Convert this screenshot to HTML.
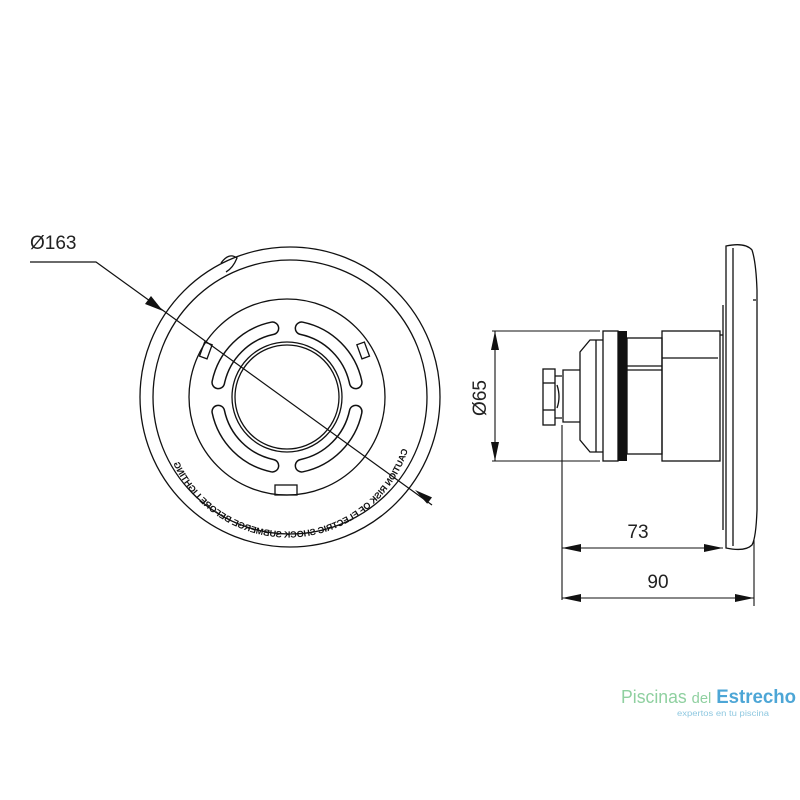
<!DOCTYPE html>
<html><head><meta charset="utf-8"><style>
html,body{margin:0;padding:0;background:#fff;width:800px;height:800px;overflow:hidden}
svg text{font-family:"Liberation Sans",sans-serif}
</style></head><body>
<svg width="800" height="800" viewBox="0 0 800 800" xmlns="http://www.w3.org/2000/svg">
<rect width="800" height="800" fill="#fff"/>
<g fill="none" stroke="#111" stroke-width="1.3">
<circle cx="290" cy="397" r="150"/>
<circle cx="290" cy="397" r="137"/>
<circle cx="287" cy="397" r="98"/>
<circle cx="287" cy="397" r="55"/>
<circle cx="287" cy="397" r="52"/>
<path d="M221 263 Q229 252 237 258 Q233 268 226 272"/>
<rect x="202" y="343" width="8" height="15" transform="rotate(20 206 350)"/>
<rect x="359" y="343" width="8" height="15" transform="rotate(-20 363 350)"/>
<rect x="275" y="485" width="22" height="10"/>
</g>
<g fill="none" stroke-linecap="round">
<g stroke="#111" stroke-width="14">
<path d="M218.3 382.4 A70 70 0 0 1 272.4 328.3"/>
<path d="M301.6 328.3 A70 70 0 0 1 355.7 382.4"/>
<path d="M355.7 411.6 A70 70 0 0 1 301.6 465.7"/>
<path d="M272.4 465.7 A70 70 0 0 1 218.3 411.6"/>
</g>
<g stroke="#fff" stroke-width="11">
<path d="M218.3 382.4 A70 70 0 0 1 272.4 328.3"/>
<path d="M301.6 328.3 A70 70 0 0 1 355.7 382.4"/>
<path d="M355.7 411.6 A70 70 0 0 1 301.6 465.7"/>
<path d="M272.4 465.7 A70 70 0 0 1 218.3 411.6"/>
</g>
</g>
<defs><path id="tp" d="M170 450 A126 126 0 0 0 414 434"/></defs>
<g transform="translate(578 0) scale(-1 1)">
<text font-size="9" font-weight="bold" fill="#111"><textPath href="#tp">CAUTION RISK OF ELECTRIC SHOCK SUBMERGE BEFORE LIGHTING</textPath></text>
</g>
<g stroke="#111" stroke-width="1.2" fill="none">
<path d="M30 262 L96 262 L432 505"/>
</g>
<polygon points="163,311 145,304 151,296" fill="#111"/>
<polygon points="415,490 432,497.4 427.2,503.8" fill="#111"/>
<text x="30" y="249" font-size="19" fill="#222">Ø163</text>
<g fill="none" stroke="#111" stroke-width="1.3">
<path d="M726 246 Q745 242 752 250 Q756 262 757 290 L757 510 Q756 538 752 545 Q745 552 726 548 Z"/>
<line x1="733" y1="248" x2="733" y2="546"/>
<line x1="723" y1="305" x2="723" y2="530"/>
<line x1="753" y1="300" x2="756" y2="300"/>
<rect x="662" y="331" width="58" height="130"/>
<line x1="662" y1="358" x2="718" y2="358"/>
<line x1="720" y1="335" x2="723" y2="335"/>
<rect x="627" y="338" width="35" height="116"/>
<line x1="627" y1="366" x2="662" y2="366"/>
<line x1="627" y1="370" x2="662" y2="370"/>
<rect x="603" y="331" width="15" height="130"/>
<path d="M603 340 L590 340 L580 352 L580 440 L590 452 L603 452"/>
<line x1="596" y1="340" x2="596" y2="452"/>
<path d="M580 370 L563 370 L563 422 L580 422"/>
<rect x="543" y="369" width="12" height="56"/>
<line x1="543" y1="383" x2="555" y2="383"/>
<line x1="543" y1="410" x2="555" y2="410"/>
<path d="M555 376 L562 376 M555 418 L562 418 M557 385 Q561 397 557 408"/>
</g>
<rect x="618" y="331" width="9" height="130" fill="#111"/>
<g stroke="#111" stroke-width="1.1" fill="none">
<line x1="492" y1="331" x2="600" y2="331"/>
<line x1="492" y1="461" x2="600" y2="461"/>
<line x1="495" y1="331" x2="495" y2="461"/>
<line x1="562" y1="425" x2="562" y2="600"/>
<line x1="754" y1="540" x2="754" y2="606"/>
<line x1="562" y1="548" x2="723" y2="548"/>
<line x1="562" y1="598" x2="754" y2="598"/>
</g>
<polygon points="495,331 491,350 499,350" fill="#111"/>
<polygon points="495,461 491,442 499,442" fill="#111"/>
<polygon points="562,548 581,544 581,552" fill="#111"/>
<polygon points="723,548 704,544 704,552" fill="#111"/>
<polygon points="562,598 581,594 581,602" fill="#111"/>
<polygon points="754,598 735,594 735,602" fill="#111"/>
<text transform="translate(486 398) rotate(-90)" text-anchor="middle" font-size="19" fill="#222">Ø65</text>
<text x="638" y="538" text-anchor="middle" font-size="19" fill="#222">73</text>
<text x="658" y="588" text-anchor="middle" font-size="19" fill="#222">90</text>
<text x="621" y="703" font-size="18" fill="#8fd0a0" textLength="175" lengthAdjust="spacingAndGlyphs">Piscinas <tspan font-size="15">del</tspan> <tspan fill="#4da6d6" font-weight="bold" font-size="19">Estrecho</tspan></text>
<text x="677" y="716" font-size="8" fill="#8fc8e0" textLength="92" lengthAdjust="spacingAndGlyphs">expertos en tu piscina</text>
</svg>
</body></html>
